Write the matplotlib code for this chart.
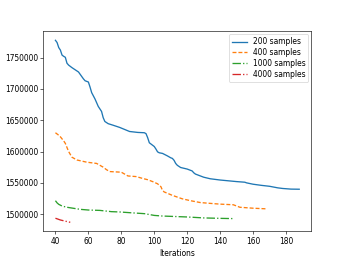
import matplotlib
matplotlib.use("Agg")
import matplotlib.pyplot as plt

# ---- data ----
x_200 = [40, 41, 42, 43, 44, 45, 46, 47, 48, 50, 54, 57, 58, 60, 61, 62, 64, 66, 68, 69,
         70, 72, 75, 79, 85, 90, 94, 95, 96, 97, 98, 100, 101, 102, 103, 105, 108, 110,
         111, 112, 113, 114, 116, 120, 122, 123, 124, 125, 127, 130, 134, 140, 150, 155,
         156, 160, 165, 170, 175, 178, 183, 188]
y_200 = [1777600, 1774000, 1766000, 1762000, 1754000, 1752000, 1750500, 1741000, 1738000,
         1734000, 1727000, 1716000, 1713000, 1711000, 1703000, 1694000, 1684000, 1672000,
         1664000, 1654000, 1648000, 1644500, 1642000, 1638500, 1632000, 1630500, 1630000,
         1628500, 1622000, 1614000, 1612000, 1608000, 1604000, 1599500, 1598000, 1597000,
         1593000, 1590000, 1589000, 1586000, 1581000, 1578000, 1574500, 1572000, 1570000,
         1569000, 1566000, 1564000, 1562000, 1559000, 1556500, 1554500, 1552000, 1551000,
         1550000, 1547800, 1546000, 1544500, 1542000, 1541000, 1540000, 1539800]

x_400 = [40, 42, 43, 45, 46, 48, 50, 53, 59, 65, 67, 69, 71, 73, 80, 82, 84, 89, 93, 96,
         99, 102, 104, 105, 106, 111, 117, 122, 128, 135, 140, 148, 150, 152, 160, 168]
y_400 = [1630000, 1626000, 1623500, 1617000, 1613000, 1600000, 1591000, 1586500, 1583000,
         1581000, 1578000, 1575000, 1571000, 1568000, 1567000, 1564000, 1561000, 1560000,
         1557000, 1555000, 1552000, 1548500, 1544000, 1538000, 1535500, 1530000, 1524500,
         1521500, 1518500, 1517000, 1516000, 1515000, 1513000, 1511000, 1509500, 1508500]

x_1000 = [40, 41, 42, 44, 47, 55, 60, 67, 74, 79, 87, 94, 100, 105, 120, 130, 140, 148]
y_1000 = [1521500, 1518000, 1515700, 1513000, 1511000, 1507700, 1506600, 1506000, 1504000,
          1503500, 1502000, 1500800, 1498000, 1497000, 1495500, 1494000, 1493300, 1492900]

x_4000 = [40, 43, 46, 49]
y_4000 = [1493500, 1490700, 1488800, 1487000]

labels = ["200 samples", "400 samples", "1000 samples", "4000 samples"]
x_label = "Iterations"

# ---- drawing ----
s = 346 / 640
plt.rcParams.update({
    "font.size": 10 * s,
    "lines.linewidth": 0.95,
    "axes.linewidth": 0.8 * s,
    "xtick.major.size": 3.5 * s,
    "ytick.major.size": 3.5 * s,
    "xtick.major.width": 0.8 * s,
    "ytick.major.width": 0.8 * s,
    "xtick.major.pad": 3.5 * s,
    "ytick.major.pad": 3.5 * s,
    "axes.labelpad": 4.0 * s,
    "legend.fontsize": 10 * s,
    "patch.linewidth": 1.0 * s,
})

fig = plt.figure(figsize=(3.46, 2.6), dpi=100)
ax = fig.add_axes([0.125, 0.11, 0.775, 0.77])

ax.plot(x_200, y_200, color="#1f77b4", linestyle="-", label=labels[0])
ax.plot(x_400, y_400, color="#ff7f0e", linestyle="--", dashes=(3, 1.5), label=labels[1])
ax.plot(x_1000, y_1000, color="#2ca02c", linestyle="-.", label=labels[2])
ax.plot(x_4000, y_4000, color="#d62728", linestyle="-.", label=labels[3])

ax.set_xlabel(x_label)
ax.ticklabel_format(axis="y", style="plain", useOffset=False)
ax.legend(loc="upper right", labelspacing=0.25, borderaxespad=0.4)

fig.savefig("out.png", dpi=100)
